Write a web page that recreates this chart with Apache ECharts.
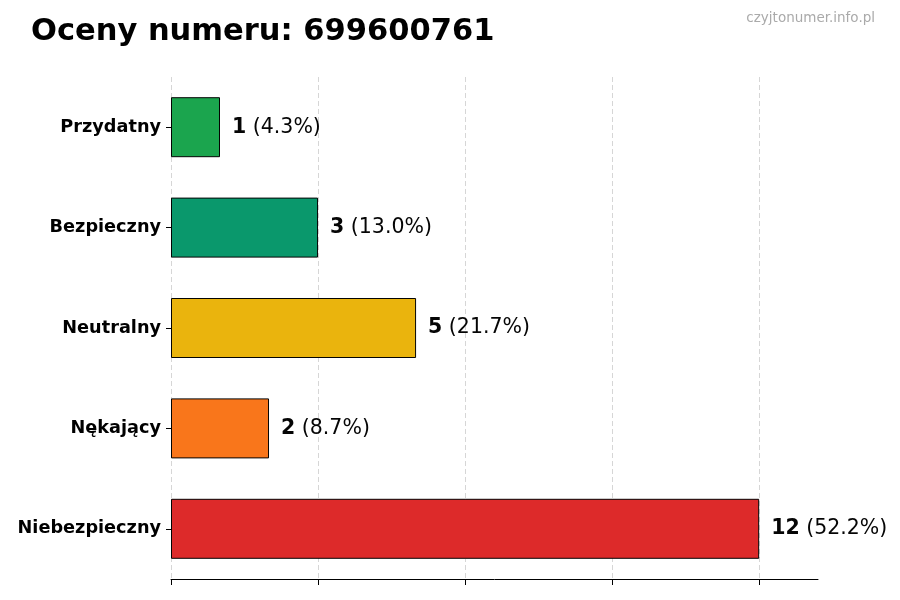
<!DOCTYPE html>
<html>
<head>
<meta charset="utf-8">
<script src="https://cdn.jsdelivr.net/npm/echarts@6/dist/echarts.min.js"></script>
<style>
  html, body { margin: 0; padding: 0; background: #fff; }
  #chart { width: 900px; height: 600px; }
</style>
</head>
<body>
<div id="chart"></div>
<script>
var CATEGORIES = ['Przydatny', 'Bezpieczny', 'Neutralny', 'Nękający', 'Niebezpieczny'];
var COUNTS = [1, 3, 5, 2, 12];
var PERCENTS = ['4.3', '13.0', '21.7', '8.7', '52.2'];
var COLORS = ['#16a34a', '#059669', '#eab308', '#f97316', '#dc2626'];
var X_TICKS = [0, 3, 6, 9, 12];

var FONT = 'DejaVu Sans';

function buildData() {
    var data = [];
    for (var i = 0; i < COUNTS.length; i++) {
        data.push({
            value: COUNTS[i],
            itemStyle: { color: COLORS[i] }
        });
    }
    return data;
}

var chart = echarts.init(document.getElementById('chart'));
var option = {
    backgroundColor: '#fff',
    animation: false,
    title: [{
        text: 'Oceny numeru: 699600761',
        left: 26,
        top: 12,
        textStyle: { fontFamily: FONT, fontSize: 30.5, fontWeight: 'bold', color: '#000' }
    }, {
        text: 'czyjtonumer.info.pl',
        right: 20,
        top: 6,
        textStyle: { fontFamily: FONT, fontSize: 13.5, fontWeight: 'normal', color: '#aaaaaa' }
    }],
    grid: { left: 171, right: 82, top: 77, bottom: 21, containLabel: false },
    xAxis: {
        type: 'value',
        min: 0,
        max: 13.2,
        interval: 3,
        axisLabel: { show: false },
        axisLine: { show: true, lineStyle: { color: '#000', width: 1 } },
        axisTick: { show: true, length: 6, lineStyle: { color: '#000' }, customValues: X_TICKS },
        splitLine: { show: true, lineStyle: { color: '#cccccc', type: [5, 3], width: 0.8 } }
    },
    yAxis: {
        type: 'category',
        inverse: true,
        data: CATEGORIES,
        axisLine: { show: false },
        axisTick: { show: true, alignWithLabel: true, length: 5, lineStyle: { color: '#000' } },
        axisLabel: { fontFamily: FONT, fontSize: 17.7, fontWeight: 'bold', color: '#000', margin: 10, padding: [3, 0, 0, 0] },
        splitLine: { show: false }
    },
    series: [{
        type: 'bar',
        data: buildData(),
        barWidth: 60,
        itemStyle: { borderColor: '#000', borderWidth: 1, opacity: 0.98 },
        label: {
            show: true,
            position: 'right',
            distance: 12,
            fontFamily: FONT,
            formatter: function (p) {
                return '{b|' + p.value + '}{n| (' + PERCENTS[p.dataIndex] + '%)}';
            },
            rich: {
                b: { fontFamily: FONT, fontSize: 20.5, fontWeight: 'bold', color: '#000' },
                n: { fontFamily: FONT, fontSize: 20.5, color: '#000' }
            }
        }
    }]
};
chart.setOption(option);
</script>
</body>
</html>
